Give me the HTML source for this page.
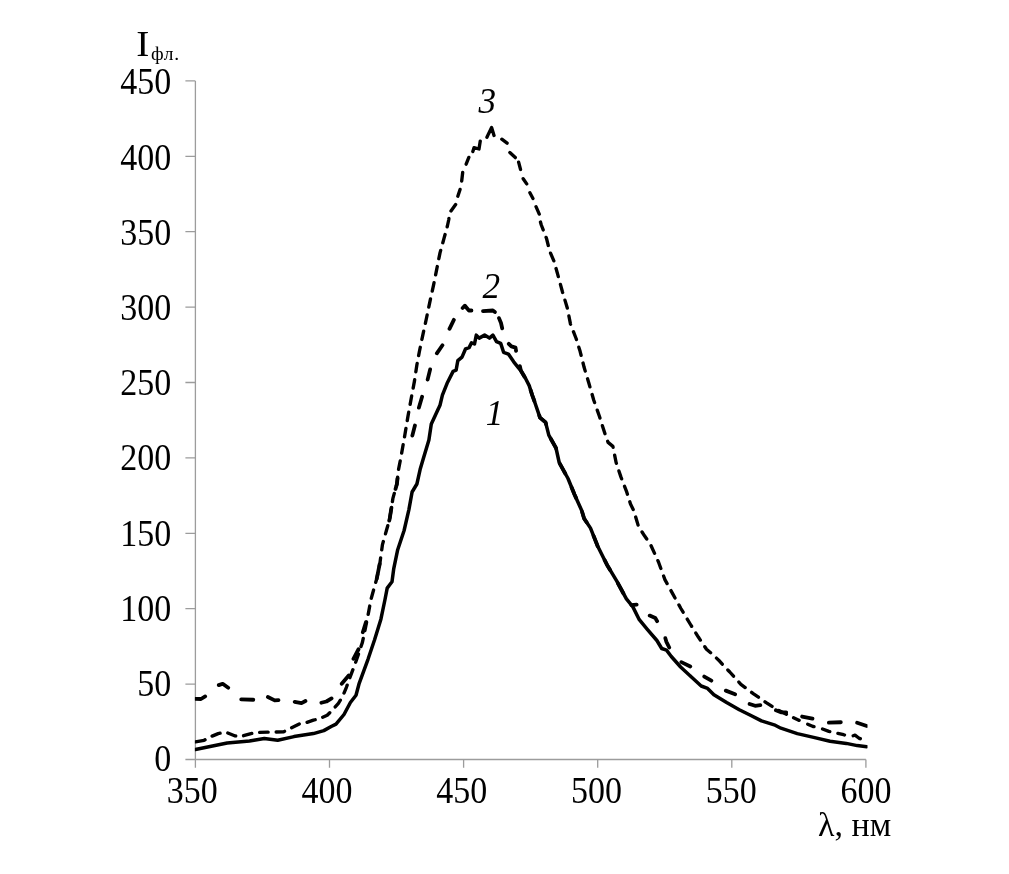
<!DOCTYPE html>
<html lang="ru"><head><meta charset="utf-8"><title>Спектры флуоресценции</title>
<style>
html,body{margin:0;padding:0;background:#fff;}
body{width:1009px;height:874px;overflow:hidden;}
svg{display:block;}
text{font-family:"Liberation Serif","DejaVu Serif",serif;fill:#000;}
.ax{stroke:#9c9c9c;stroke-width:1.3;fill:none;}
.c{fill:none;stroke:#000;stroke-linejoin:round;}
</style></head><body>
<svg width="1009" height="874" viewBox="0 0 1009 874">
<defs><filter id="soft" x="0" y="0" width="1009" height="874" filterUnits="userSpaceOnUse"><feGaussianBlur stdDeviation="0.5"/></filter></defs>
<clipPath id="plot"><rect x="194.9" y="60" width="672.6" height="700"/></clipPath>
<rect width="1009" height="874" fill="#fff"/>
<g filter="url(#soft)">

<path class="ax" d="M195.4 80.9 V767.8 M185.4 759.5 H865.9"/>
<path class="ax" d="M185.4 684.1 H195.4 M185.4 608.7 H195.4 M185.4 533.3 H195.4 M185.4 457.9 H195.4 M185.4 382.5 H195.4 M185.4 307.1 H195.4 M185.4 231.7 H195.4 M185.4 156.3 H195.4 M185.4 80.9 H195.4 M329.5 759.5 V767.8 M463.6 759.5 V767.8 M597.7 759.5 V767.8 M731.8 759.5 V767.8 M865.9 759.5 V767.8 "/>
<g font-size="34.0">
<text transform="translate(171.3,771.3) scale(1,1.12)" text-anchor="end">0</text>
<text transform="translate(171.3,696.1) scale(1,1.12)" text-anchor="end">50</text>
<text transform="translate(171.3,620.9) scale(1,1.12)" text-anchor="end">100</text>
<text transform="translate(171.3,545.6) scale(1,1.12)" text-anchor="end">150</text>
<text transform="translate(171.3,470.4) scale(1,1.12)" text-anchor="end">200</text>
<text transform="translate(171.3,395.2) scale(1,1.12)" text-anchor="end">250</text>
<text transform="translate(171.3,320.0) scale(1,1.12)" text-anchor="end">300</text>
<text transform="translate(171.3,244.8) scale(1,1.12)" text-anchor="end">350</text>
<text transform="translate(171.3,169.5) scale(1,1.12)" text-anchor="end">400</text>
<text transform="translate(171.3,94.3) scale(1,1.12)" text-anchor="end">450</text>
<text transform="translate(192.2,803.2) scale(1,1.12)" text-anchor="middle">350</text>
<text transform="translate(326.9,803.2) scale(1,1.12)" text-anchor="middle">400</text>
<text transform="translate(461.7,803.2) scale(1,1.12)" text-anchor="middle">450</text>
<text transform="translate(596.4,803.2) scale(1,1.12)" text-anchor="middle">500</text>
<text transform="translate(731.2,803.2) scale(1,1.12)" text-anchor="middle">550</text>
<text transform="translate(865.9,803.2) scale(1,1.12)" text-anchor="middle">600</text>
<text transform="translate(136.2,55.8) scale(1.09,0.985)" font-size="36">I</text>
<text x="151" y="59.9" font-size="19.5" letter-spacing="0.7">фл.</text>
<text transform="translate(818,836.4) scale(1,0.97)">λ, нм</text>
</g>
<g font-size="35.1" font-style="italic" text-anchor="middle">
<text transform="translate(487.3,112.6) scale(1,1.04)">3</text>
<text transform="translate(491.3,297.5) scale(1,1.04)">2</text>
<text transform="translate(494.6,424.8) scale(1,1.04)">1</text>
</g>
<g clip-path="url(#plot)">
<polyline class="c" stroke-width="3.5" stroke-linecap="round" points="195.4,749.5 227.2,743.0 249.5,741.0 264.3,738.5 277.7,740.3 294.0,736.6 313.4,733.6 323.8,730.6 331.2,726.5 336.0,724.1 344.0,714.5 350.4,702.5 356.0,695.3 359.2,683.3 368.0,659.3 374.5,640.0 380.9,619.2 384.9,600.0 387.2,588.1 392.0,581.7 393.7,568.9 397.7,549.7 404.1,530.5 408.9,509.6 412.1,492.0 416.9,484.0 420.1,469.6 422.9,460.0 428.9,440.1 431.3,424.1 440.1,404.9 442.4,395.1 447.1,383.3 453.1,371.4 456.1,370.2 457.8,360.7 462.0,357.1 465.6,348.8 469.1,347.6 471.5,342.8 474.5,344.0 476.3,335.1 479.2,338.1 484.6,335.1 489.4,338.1 492.9,335.1 496.5,341.6 500.7,343.4 503.6,352.3 508.4,354.1 513.7,361.8 518.5,367.8 520.8,370.5 525.6,378.5 529.2,385.6 532.2,395.1 534.0,400.0 540.0,417.6 545.6,422.4 548.8,435.2 556.0,448.0 559.2,462.5 568.0,478.5 574.5,494.5 581.7,510.5 584.1,518.5 590.5,528.1 597.6,546.0 607.2,565.2 616.8,581.2 626.4,598.9 632.9,606.9 639.3,619.7 647.3,629.3 656.9,640.5 661.7,648.5 666.5,650.1 671.3,656.5 680.6,667.0 691.7,677.3 701.2,686.0 707.6,688.4 713.9,694.7 726.6,702.6 739.3,709.8 750.4,715.3 761.5,720.9 774.2,724.8 780.9,728.2 797.3,733.6 813.6,737.4 830.0,741.2 846.3,743.4 857.2,745.6 866.8,746.7"/>
<polyline class="c" stroke-width="3.8" stroke-linecap="round" stroke-dasharray="0.0 0.0 10.5 17.8 10.9 17.9 12.1 15.2 11.4 16.3 11.4 16.4 11.2 17.9 10.8 17.6 10.8 17.6 10.6 44.9 15.0 44.4 13.1 19.2 10.9 45.9 10.4 18.3 11.4 18.0 10.5 17.5 9.8 17.9 10.0 14.8 12.0 11.6 12.4 7.5 10.7 17.1 11.3 15.8 11.3 15.4 11.3 15.4 11.3 15.4 11.3 15.4 11.3 15.4 11.3 15.4 11.3 15.4 11.3 15.4 11.3 15.4 11.3 15.4 5.3 17.5 9.7 18.9 10.2 19.2 9.9 17.3 8.2 17.6 10.0 17.5 11.1 16.5 10.7 16.5 10.6 16.9 12.0 16.4 10.4 9999.0" points="195.4,698.9 201.0,699.0 206.4,695.7 217.5,685.6 222.7,683.8 229.4,688.5 239.8,699.4 254.7,699.8 266.6,696.4 274.7,700.4 279.9,700.1 293.3,701.6 301.5,703.1 306.7,700.4 320.0,703.1 326.4,701.5 332.7,697.7 340.8,684.9 349.6,674.5 352.8,660.0 359.2,648.0 362.4,633.6 366.4,620.8 369.6,603.2 376.8,578.5 380.0,562.5 382.4,544.9 386.4,530.5 389.6,519.3 392.9,498.4 396.9,484.0 398.5,469.6 402.0,460.0 405.6,456.1 408.0,450.0 412.0,436.9 415.3,424.1 418.5,408.9 422.5,395.3 427.3,380.9 430.5,368.0 436.1,354.4 443.3,344.0 448.9,330.0 454.5,318.5 461.7,308.9 464.9,305.7 468.9,310.5 472.9,310.5 481.7,311.3 492.9,310.5 496.1,312.9 498.5,316.9 501.0,323.0 502.5,329.7 504.0,336.0 507.8,342.8 511.4,346.4 515.5,347.6 516.3,352.3 519.0,362.0 520.8,370.5 525.6,378.5 529.2,385.6 532.2,395.1 534.0,400.0 540.0,417.6 545.6,422.4 548.8,435.2 556.0,448.0 559.2,462.5 568.0,478.5 574.5,494.5 581.7,510.5 584.1,518.5 590.5,528.1 597.6,546.0 607.2,565.2 616.8,581.2 626.4,598.9 629.6,605.3 637.7,604.5 648.1,614.9 655.3,618.1 657.7,622.1 664.9,636.5 666.3,641.6 669.7,648.5 679.8,661.4 691.3,666.9 702.8,675.7 712.3,681.2 724.2,690.0 736.1,694.7 748.0,703.4 755.1,705.8 761.5,705.0 774.4,709.6 780.9,712.3 787.4,712.3 800.5,716.2 813.6,718.9 827.2,722.7 842.0,722.2 855.6,722.2 866.8,726.0"/>
<polyline class="c" stroke-width="3.35" stroke-linecap="round" stroke-dasharray="0.0 0.0 9.9 8.0 8.5 8.0 8.5 8.0 8.5 8.0 8.5 8.0 8.5 8.0 8.5 8.0 8.5 8.0 8.5 8.0 8.5 8.0 8.5 8.0 8.5 8.0 8.5 8.0 8.5 8.0 8.5 8.0 8.5 8.0 8.5 8.0 8.5 8.0 8.5 8.0 8.5 8.0 8.5 8.0 8.5 8.0 8.5 8.0 8.5 8.0 8.5 8.0 8.5 8.0 8.5 8.0 8.5 8.0 8.5 8.0 8.5 8.0 8.5 8.0 8.5 8.0 8.5 8.0 8.5 8.0 8.5 8.0 8.5 8.0 8.5 8.0 8.5 8.0 8.5 8.0 8.5 8.0 8.0 8.6 7.1 8.6 8.6 9.0 7.3 7.3 17.2 8.5 19.0 8.8 6.6 10.4 7.4 5.9 7.6 9.8 6.3 9.4 6.5 8.8 8.1 8.0 8.4 8.0 8.4 8.0 8.4 8.0 8.4 8.0 8.4 8.0 8.4 8.0 8.4 8.0 8.4 8.0 8.4 8.0 8.4 8.0 8.4 8.0 8.4 8.0 8.4 8.0 8.4 8.0 8.4 8.0 8.4 8.0 8.4 8.0 8.4 8.0 8.4 8.0 8.4 8.0 8.4 8.0 8.4 8.0 8.4 8.0 8.4 8.0 8.4 8.0 8.4 8.0 8.4 8.0 8.4 8.0 8.4 8.0 8.4 8.0 8.4 8.0 8.4 8.0 8.4 8.0 8.4 8.0 8.4 8.0 6.1 9.4 6.8 8.9 7.7 8.3 6.8 9.2 8.4 8.2 0.2 9999.0" points="195.4,741.8 204.1,740.3 209.3,737.3 218.2,733.6 225.7,732.1 234.6,735.8 240.5,736.6 251.0,733.6 256.9,732.4 283.7,731.8 288.9,729.1 299.3,723.9 304.5,723.2 313.4,720.2 320.0,718.5 327.2,715.3 332.0,710.5 338.4,703.3 342.4,696.9 346.4,687.3 349.6,678.5 354.4,665.7 358.4,654.5 362.4,642.4 365.6,627.2 368.8,611.2 370.8,600.0 376.8,578.5 380.0,562.5 382.4,544.9 386.4,530.5 389.6,519.3 392.9,498.4 396.9,484.0 398.5,469.6 400.8,458.0 404.8,435.3 408.0,416.1 411.2,398.5 414.5,380.9 416.9,364.8 419.3,352.0 422.0,338.8 426.4,318.5 430.4,299.3 433.6,284.9 436.8,268.9 440.0,252.9 444.0,238.4 447.4,226.0 448.8,219.5 449.4,213.2 455.7,204.4 457.0,198.7 460.1,189.3 461.4,183.6 462.7,172.3 465.2,166.6 468.9,157.2 472.1,154.0 474.0,147.7 479.0,149.0 480.3,140.8 485.9,139.5 488.5,133.9 491.6,127.6 494.1,135.8 499.8,137.7 507.3,143.3 508.0,150.9 515.5,157.8 518.0,159.7 520.6,169.8 521.8,176.7 526.9,184.2 528.7,190.5 533.1,198.7 535.0,204.4 539.4,214.4 540.1,220.7 541.3,225.0 546.5,238.4 549.7,251.2 554.0,261.2 557.7,274.4 562.5,292.0 567.3,308.0 570.5,324.1 576.1,338.5 580.1,351.3 584.1,367.3 588.9,383.3 593.7,400.0 599.3,416.0 604.9,433.6 608.1,442.4 612.9,446.4 616.1,462.5 620.9,476.9 626.5,491.3 630.5,504.1 633.7,510.5 638.5,526.5 644.5,535.8 650.5,544.4 658.5,562.0 664.9,579.6 672.9,594.1 680.9,608.5 690.5,624.5 698.5,637.3 706.5,649.3 711.3,653.3 718.7,660.2 722.5,664.5 729.8,672.0 740.9,684.4 753.6,693.9 766.2,702.6 777.3,709.8 790.2,716.2 798.3,720.0 804.3,722.7 813.1,726.5 819.1,727.6 828.9,731.4 834.3,732.5 843.6,734.7 849.6,736.9 855.0,735.2 859.4,738.5 866.2,740.1"/>
</g>
</g>
</svg>
</body></html>
